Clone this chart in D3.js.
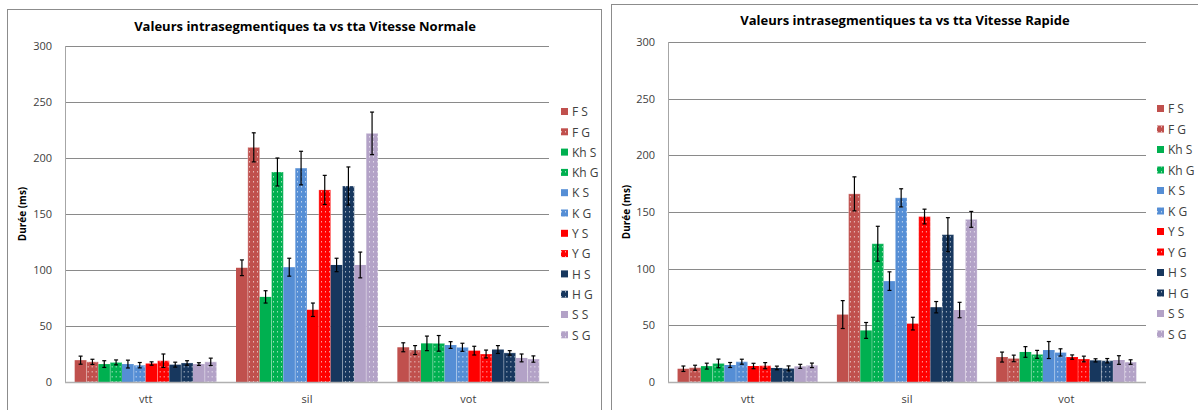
<!DOCTYPE html>
<html><head><meta charset="utf-8">
<script src="https://cdn.jsdelivr.net/npm/d3@7/dist/d3.min.js"></script>
<style>
html,body{margin:0;padding:0;background:#fff;}
svg{display:block;font-family:"Open Sans","Noto Sans",sans-serif;}
</style></head><body>
<svg id="chart" width="1198" height="410"></svg>
<script>
const categories = ["vtt", "sil", "vot"];
const series = ["F S","F G","Kh S","Kh G","K S","K G","Y S","Y G","H S","H G","S S","S G"];
const seriesColors = ["#C0504D","#C0504D","#00B050","#00B050","#558ED5","#558ED5","#FF0000","#FF0000","#17375E","#17375E","#B3A2C7","#B3A2C7"];
const yTicks = [0, 50, 100, 150, 200, 250, 300];

// Vitesse Normale
const normalVtt = [19.5, 18, 16, 17.5, 16, 15, 16.5, 19, 15.5, 17, 16, 18];
const normalSil = [102, 209.5, 76, 187.5, 102.5, 191, 64.5, 171.5, 104.5, 175, 104.5, 222];
const normalVot = [31, 28.5, 34.5, 34.5, 33, 31, 28, 25, 29, 26, 21.5, 20.5];
const normalVttErr = [3.6, 2.3, 3, 2.2, 3.5, 2.4, 1.5, 6, 2.2, 2, 1.2, 3.3];
const normalSilErr = [7, 13, 5.5, 12.5, 8, 15, 6, 13, 6, 17, 11.5, 19];
const normalVotErr = [4, 4, 6.5, 7, 3, 3.6, 3.9, 3.5, 3.5, 2, 3.5, 2.8];

// Vitesse Rapide
const rapidVtt = [11.7, 12.6, 14, 16.4, 15, 17.9, 14.1, 14.4, 12.4, 12, 13.8, 14.7];
const rapidSil = [59.5, 166, 45.5, 122, 89, 162.5, 51.5, 146, 66, 130, 63.5, 143.5];
const rapidVot = [22, 20.8, 26.5, 24.4, 28.2, 26.1, 22, 20.3, 19.1, 18.8, 19.4, 17.6];
const rapidVttErr = [2.4, 2.2, 2.6, 3.8, 2.2, 2.2, 2.4, 2.7, 1.6, 2.2, 1.8, 2];
const rapidSilErr = [12.3, 15, 7, 15.4, 8.2, 8, 5.6, 6.5, 5, 15, 6.8, 7];
const rapidVotErr = [4.4, 2.9, 4.7, 3.5, 7.5, 3.2, 1.9, 2.5, 1.4, 1.9, 3.8, 2];

const svg = d3.select("#chart");
const defs = svg.append("defs");
const pat = defs.append("pattern").attr("id","dots").attr("patternUnits","userSpaceOnUse")
  .attr("width",4).attr("height",5);
pat.append("rect").attr("x",1).attr("y",1).attr("width",1).attr("height",1.5).attr("fill","rgba(255,255,255,0.6)");

function drawChart(cfg){
  const g = svg.append("g");
  // panel frame
  g.append("rect").attr("x",cfg.frame[0]+0.5).attr("y",cfg.frame[1]+0.5)
    .attr("width",cfg.frame[2]).attr("height",cfg.frame[3])
    .attr("fill","#fff").attr("stroke","#8c8c8c").attr("stroke-width",1);

  const x = d3.scaleBand().domain(categories).range([cfg.x0, cfg.x1]).paddingInner(0.12).paddingOuter(0.06);
  const xi = d3.scaleBand().domain(series).range([0, x.bandwidth()]).padding(0);
  const y = d3.scaleLinear().domain([0,300]).range([cfg.yBottom, cfg.yTop]);

  // grid
  g.append("g").selectAll("line").data(yTicks.filter(t=>t>0)).join("line")
    .attr("x1",cfg.x0).attr("x2",cfg.x1)
    .attr("y1",d=>Math.round(y(d))+0.5).attr("y2",d=>Math.round(y(d))+0.5)
    .attr("stroke","#8a8a8a").attr("stroke-width",1);
  // y axis line
  g.append("line").attr("x1",cfg.x0+0.5).attr("x2",cfg.x0+0.5)
    .attr("y1",cfg.yTop).attr("y2",cfg.yBottom).attr("stroke","#a6a6a6");

  // y tick labels
  const yAxis = d3.axisLeft(y).tickValues(yTicks).tickSize(0).tickPadding(13);
  const ya = g.append("g").attr("transform",`translate(${cfg.x0},0)`).call(yAxis);
  ya.select(".domain").remove();
  ya.selectAll("text").attr("font-size",11).attr("fill","#404040").attr("font-family","'Open Sans',sans-serif");

  // x axis labels
  const xAxis = d3.axisBottom(x).tickSize(0).tickPadding(13);
  const xa = g.append("g").attr("transform",`translate(0,${cfg.yBottom})`).call(xAxis);
  xa.select(".domain").remove();
  xa.selectAll("text").attr("font-size",11).attr("fill","#404040").attr("font-family","'Open Sans',sans-serif");

  // bars
  categories.forEach((cat, ci) => {
    const vals = cfg.values[ci], errs = cfg.errors[ci];
    const gg = g.append("g").attr("transform",`translate(${x(cat)},0)`);
    series.forEach((s, si) => {
      const bx = xi(s), bw = xi.bandwidth();
      const top = y(vals[si]);
      const isG = si % 2 === 1;
      gg.append("rect").attr("x",bx).attr("y",top).attr("width",bw).attr("height",cfg.yBottom-top)
        .attr("fill",seriesColors[si])
        .attr("stroke",isG ? "rgba(255,255,255,0.3)" : "none").attr("stroke-width",1);
      if (isG) {
        gg.append("rect").attr("x",bx).attr("y",top).attr("width",bw).attr("height",cfg.yBottom-top)
          .attr("fill","url(#dots)");
      }
      // error bar
      const cx = bx + bw/2;
      const yh = y(vals[si] + errs[si]), yl = y(vals[si] - errs[si]);
      gg.append("line").attr("x1",cx).attr("x2",cx).attr("y1",yh).attr("y2",yl).attr("stroke","#000").attr("stroke-width",1.2);
      [yh, yl].forEach(yy => gg.append("line").attr("x1",cx-2).attr("x2",cx+2).attr("y1",yy).attr("y2",yy).attr("stroke","#000").attr("stroke-width",1.2));
    });
  });

  // baseline
  g.append("line").attr("x1",cfg.x0).attr("x2",cfg.x1)
    .attr("y1",cfg.yBottom+0.5).attr("y2",cfg.yBottom+0.5).attr("stroke","#b0b0b0").attr("stroke-width",1.5);

  // title
  g.append("text").attr("x",cfg.titleX).attr("y",cfg.titleY).attr("text-anchor","middle")
    .attr("font-size",13).attr("font-weight","bold").attr("fill","#000").text(cfg.title);

  // y axis title
  g.append("text").attr("transform",`translate(${cfg.yTitleX},${(cfg.yTop+cfg.yBottom)/2}) rotate(-90)`)
    .attr("text-anchor","middle").attr("font-size",10).attr("font-weight","bold").attr("fill","#000")
    .text("Durée (ms)");

  // legend
  const lg = g.append("g");
  series.forEach((s, si) => {
    const ly = cfg.legendY + si*cfg.legendStep;
    lg.append("rect").attr("x",cfg.legendX).attr("y",ly-4).attr("width",7).attr("height",7).attr("fill",seriesColors[si]);
    if (si % 2 === 1) lg.append("rect").attr("x",cfg.legendX).attr("y",ly-4).attr("width",7).attr("height",7).attr("fill","url(#dots)");
    lg.append("text").attr("x",cfg.legendX+11).attr("y",ly).attr("dy","0.35em")
      .attr("font-size",12).attr("fill","#404040").text(s);
  });
}

drawChart({
  frame:[7,9,594,410], x0:65, x1:549, yTop:46, yBottom:382,
  title:"Valeurs intrasegmentiques ta vs tta Vitesse Normale", titleX:305, titleY:31,
  yTitleX:26, legendX:561, legendY:112, legendStep:20.3,
  values:[normalVtt, normalSil, normalVot], errors:[normalVttErr, normalSilErr, normalVotErr]
});
drawChart({
  frame:[611,4,600,410], x0:668, x1:1146, yTop:42, yBottom:382,
  title:"Valeurs intrasegmentiques ta vs tta Vitesse Rapide", titleX:905, titleY:25,
  yTitleX:630, legendX:1157, legendY:109, legendStep:20.5,
  values:[rapidVtt, rapidSil, rapidVot], errors:[rapidVttErr, rapidSilErr, rapidVotErr]
});
</script>
</body></html>
